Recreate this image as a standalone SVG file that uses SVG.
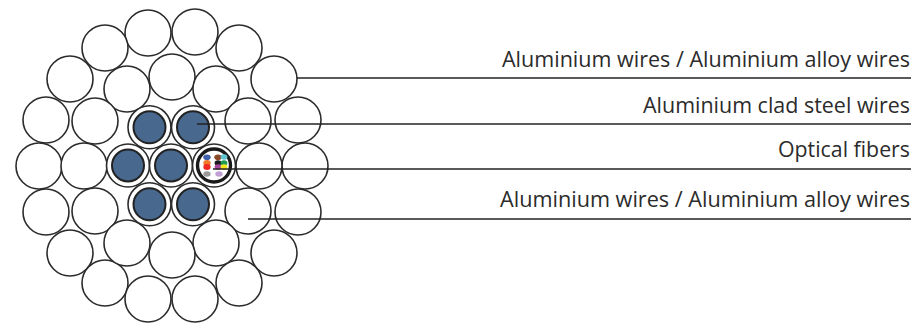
<svg xmlns="http://www.w3.org/2000/svg" width="913" height="324" viewBox="0 0 913 324">
<style>
.w{fill:#fff;stroke:#2b2b2b;stroke-width:1.6}
.o{fill:#fff;stroke:#2b2b2b;stroke-width:1.6}
.b{fill:#48688e;stroke:#222;stroke-width:2}
.c line{stroke:#222;stroke-width:1.3}
text{font-family:"Open Sans","Noto Sans","Liberation Sans",sans-serif;font-size:21px;fill:#2b2b2b;text-anchor:end}
</style>
<rect width="913" height="324" fill="#fff"/>
<defs>
<circle id="wire" r="23" class="w"/>
<g id="steel"><circle r="21.5" class="o"/><circle r="16" class="b"/></g>
</defs>
<g id="outer-wires">
<use href="#wire" x="148" y="33"/><use href="#wire" x="195" y="32"/>
<use href="#wire" x="105" y="48"/><use href="#wire" x="239" y="48"/>
<use href="#wire" x="70" y="79"/><use href="#wire" x="274" y="79"/>
<use href="#wire" x="46" y="120"/><use href="#wire" x="298" y="120"/>
<use href="#wire" x="39" y="166"/><use href="#wire" x="305" y="166"/>
<use href="#wire" x="46" y="212"/><use href="#wire" x="298" y="212"/>
<use href="#wire" x="70" y="253"/><use href="#wire" x="274" y="253"/>
<use href="#wire" x="105" y="283"/><use href="#wire" x="239" y="283"/>
<use href="#wire" x="148" y="299"/><use href="#wire" x="195" y="299"/>
</g>
<g id="inner-wires">
<use href="#wire" x="172" y="77"/><use href="#wire" x="127" y="89"/><use href="#wire" x="216" y="89"/>
<use href="#wire" x="95" y="121"/><use href="#wire" x="248" y="121"/>
<use href="#wire" x="84" y="166"/><use href="#wire" x="259" y="166"/>
<use href="#wire" x="95" y="211"/><use href="#wire" x="248" y="211"/>
<use href="#wire" x="127" y="243"/><use href="#wire" x="216" y="243"/><use href="#wire" x="172" y="255"/>
</g>
<g id="steel-wires">
<use href="#steel" x="149.5" y="127.3"/><use href="#steel" x="193" y="127.3"/>
<use href="#steel" x="128" y="165.5"/><use href="#steel" x="171" y="165.5"/>
<use href="#steel" x="149.5" y="204.3"/><use href="#steel" x="193" y="204.3"/>
</g>
<g id="optical-unit">
<circle cx="214" cy="165.5" r="21.5" class="o"/>
<circle cx="214" cy="165.5" r="16.5" fill="#fff" stroke="#1a1a1a" stroke-width="3.4"/>
<ellipse cx="207" cy="157.3" rx="3.7" ry="2.8" fill="#3f5fa8"/>
<ellipse cx="218" cy="157.3" rx="3.7" ry="2.8" fill="#8a4a2a"/>
<ellipse cx="224" cy="157" rx="3.4" ry="2.8" fill="#62c4d2"/>
<ellipse cx="207" cy="163" rx="3.7" ry="3" fill="#f07828"/>
<ellipse cx="218" cy="163" rx="3.4" ry="2.8" fill="#1a1a1a"/>
<ellipse cx="224" cy="163" rx="3.4" ry="2.8" fill="#1f9a55"/>
<ellipse cx="207" cy="167" rx="3.7" ry="3" fill="#ee2a24"/>
<ellipse cx="218" cy="167" rx="3.4" ry="2.8" fill="#a8489c"/>
<ellipse cx="224" cy="167" rx="3.4" ry="2.8" fill="#f4e61c"/>
<ellipse cx="207" cy="174" rx="3.7" ry="2.8" fill="#9a9a9a"/>
<ellipse cx="219" cy="174" rx="3.7" ry="2.8" fill="#c0a0d4"/>
</g>
<g id="connectors" class="c">
<line x1="297" y1="78" x2="911" y2="78"/>
<line x1="197" y1="124" x2="911" y2="124"/>
<line x1="213" y1="169" x2="911" y2="169"/>
<line x1="248" y1="219" x2="911" y2="219"/>
</g>
<g id="labels">
<text x="910" y="67" textLength="408" lengthAdjust="spacingAndGlyphs">Aluminium wires / Aluminium alloy wires</text>
<text x="910" y="113" textLength="267" lengthAdjust="spacingAndGlyphs">Aluminium clad steel wires</text>
<text x="910" y="157" textLength="132" lengthAdjust="spacingAndGlyphs">Optical fibers</text>
<text x="910" y="207" textLength="410" lengthAdjust="spacingAndGlyphs">Aluminium wires / Aluminium alloy wires</text>
</g>
</svg>
